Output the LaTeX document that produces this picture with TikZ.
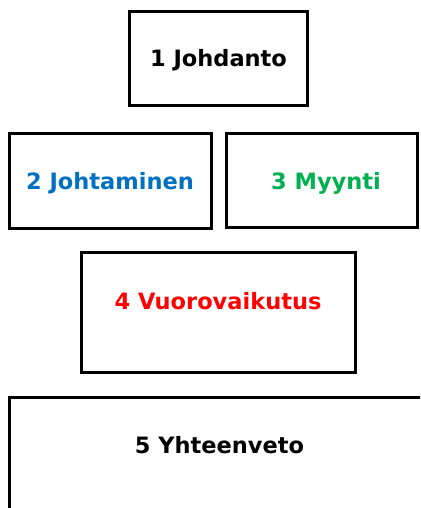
\documentclass[tikz,border=0pt]{standalone}
\usepackage{fontspec}
\setmainfont{DejaVu Sans}
\definecolor{tblue}{HTML}{0070C0}
\definecolor{tgreen}{HTML}{00B050}
\definecolor{tred}{HTML}{FF0000}
\begin{document}
\begin{tikzpicture}[x=1pt,y=-1pt,
  boxline/.style={draw=black,line width=3pt},
  lbl/.style={anchor=base,inner sep=0pt,font=\fontsize{22.5}{26}\selectfont\bfseries}]
\useasboundingbox (0,0) rectangle (420,508);
\clip (0,0) rectangle (420,508);
\draw[boxline] (129,12) rectangle (307,106);
\draw[boxline] (9,133) rectangle (211,228);
\draw[boxline] (226,133) rectangle (417,227);
\draw[boxline] (81,252) rectangle (355,372);
\draw[boxline] (9,397) rectangle (430,520);
\node[lbl] (t1) at (218.5,67) {1 Johdanto};
\node[lbl,text=tblue] (t2) at (110,189) {2 Johtaminen};
\node[lbl,text=tgreen] (t3) at (326,189) {3 Myynti};
\node[lbl,text=tred] (t4) at (218,309) {4 Vuorovaikutus};
\node[lbl] (t5) at (219.5,453) {5 Yhteenveto};
\end{tikzpicture}
\end{document}
